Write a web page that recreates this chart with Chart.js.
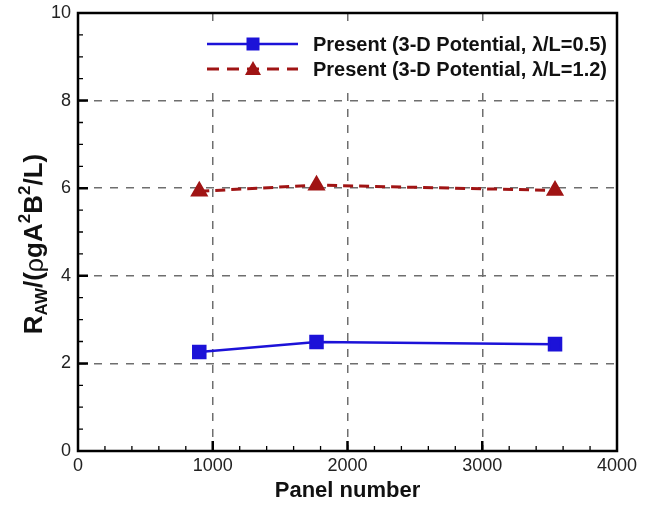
<!DOCTYPE html>
<html>
<head>
<meta charset="utf-8">
<script src="https://cdn.jsdelivr.net/npm/chart.js@4.4.1/dist/chart.umd.min.js"></script>
<style>
  html, body { margin: 0; padding: 0; background: #fff; }
  #wrap { width: 659px; height: 508px; position: relative; }
</style>
</head>
<body>
<div id="wrap"><canvas id="c"></canvas></div>
<script>
// values
const panelCounts = [900, 1770, 3540];
const raw05 = [2.26, 2.49, 2.44];
const raw12 = [5.93, 6.07, 5.95];
const seriesLabels = ['Present (3-D Potential, \u03BB/L=0.5)', 'Present (3-D Potential, \u03BB/L=1.2)'];
const xTicks = [0, 1000, 2000, 3000, 4000];
const yTicks = [0, 2, 4, 6, 8, 10];

const FONT = "'Liberation Sans', Arial, sans-serif";

function toPoints(xs, ys) {
  return xs.map((v, i) => ({ x: v, y: ys[i] }));
}

// frame, inward ticks, legend inside the plot, y title with sub/superscripts
const decor = {
  id: 'decor',
  afterDraw(chart) {
    const { ctx, chartArea: a, scales: { x, y } } = chart;
    ctx.save();
    ctx.strokeStyle = '#000';

    // minor ticks
    ctx.lineWidth = 1.3;
    ctx.beginPath();
    for (let v = 200; v < 4000; v += 200) {
      if (v % 1000 === 0) continue;
      const px = x.getPixelForValue(v);
      ctx.moveTo(px, a.bottom); ctx.lineTo(px, a.bottom - 5);
    }
    for (let v = 0.5; v < 10; v += 0.5) {
      if (v % 2 === 0) continue;
      const py = y.getPixelForValue(v);
      ctx.moveTo(a.left, py); ctx.lineTo(a.left + 5, py);
    }
    ctx.stroke();

    // major ticks
    ctx.lineWidth = 2.5;
    ctx.beginPath();
    xTicks.slice(1, -1).forEach(v => {
      const px = x.getPixelForValue(v);
      ctx.moveTo(px, a.bottom); ctx.lineTo(px, a.bottom - 10);
    });
    yTicks.slice(1, -1).forEach(v => {
      const py = y.getPixelForValue(v);
      ctx.moveTo(a.left, py); ctx.lineTo(a.left + 10, py);
    });
    ctx.stroke();

    // frame
    ctx.lineWidth = 2.5;
    ctx.strokeRect(a.left, a.top, a.right - a.left, a.bottom - a.top);

    // legend
    ctx.fillStyle = '#fff';
    ctx.fillRect(200, 28, a.right - 203, 58);
    const rows = [44, 69];
    chart.data.datasets.forEach((ds, i) => {
      const ly = rows[i];
      ctx.save();
      ctx.strokeStyle = ds.borderColor;
      ctx.lineWidth = ds.borderWidth;
      ctx.setLineDash(ds.borderDash ? [12, 8] : []);
      ctx.beginPath();
      ctx.moveTo(207, ly); ctx.lineTo(298, ly);
      ctx.stroke();
      ctx.restore();
      ctx.fillStyle = ds.pointBackgroundColor;
      ctx.beginPath();
      if (ds.pointStyle === 'rect') {
        ctx.rect(253 - 6.5, ly - 6.5, 13, 13);
      } else {
        ctx.moveTo(253, ly - 8); ctx.lineTo(261, ly + 6); ctx.lineTo(245, ly + 6); ctx.closePath();
      }
      ctx.fill();
      ctx.fillStyle = '#111';
      ctx.font = 'bold 20px ' + FONT;
      ctx.textBaseline = 'middle';
      ctx.textAlign = 'left';
      ctx.fillText(ds.label, 313, ly + 1);
    });

    // y axis title
    ctx.translate(35, 244);
    ctx.rotate(-Math.PI / 2);
    const parts = [
      ['R', 'bold 26px', 0], ['AW', 'bold 17px', 7], ['/(', 'bold 26px', 0],
      ['\u03C1', '25px', 1], ['gA', 'bold 26px', 0], ['2', 'bold 17px', -10],
      ['B', 'bold 26px', 0], ['2', 'bold 17px', -10], ['/L)', 'bold 26px', 0]
    ];
    let w = 0;
    parts.forEach(p => { ctx.font = p[1] + ' ' + FONT; w += ctx.measureText(p[0]).width; });
    let cx = -w / 2;
    ctx.fillStyle = '#111';
    ctx.textBaseline = 'middle';
    ctx.textAlign = 'left';
    parts.forEach(p => {
      ctx.font = p[1] + ' ' + FONT;
      ctx.fillText(p[0], cx, p[2]);
      cx += ctx.measureText(p[0]).width;
    });
    ctx.restore();
  }
};

const gridColor = ctx => {
  const v = ctx.tick ? ctx.tick.value : null;
  return (v === ctx.scale.min || v === ctx.scale.max) ? 'rgba(0,0,0,0)' : '#6e6e6e';
};

new Chart(document.getElementById('c'), {
  type: 'line',
  data: {
    datasets: [
      {
        label: seriesLabels[0],
        data: toPoints(panelCounts, raw05),
        borderColor: '#1c12d8',
        backgroundColor: '#1c12d8',
        pointBackgroundColor: '#1c12d8',
        pointBorderColor: '#1c12d8',
        borderWidth: 2.5,
        pointStyle: 'rect',
        pointRadius: 8.5,
        pointHoverRadius: 8.5,
        tension: 0
      },
      {
        label: seriesLabels[1],
        data: toPoints(panelCounts, raw12),
        borderColor: '#a01414',
        backgroundColor: '#a01414',
        pointBackgroundColor: '#a01414',
        pointBorderColor: '#a01414',
        borderWidth: 3,
        borderDash: [10, 6],
        pointStyle: 'triangle',
        pointRadius: 7.5,
        pointHoverRadius: 7.5,
        tension: 0
      }
    ]
  },
  options: {
    responsive: true,
    maintainAspectRatio: false,
    animation: false,
    layout: { padding: { left: 0, top: 13, right: 42, bottom: 0 } },
    plugins: {
      legend: { display: false },
      tooltip: { enabled: false }
    },
    scales: {
      x: {
        type: 'linear',
        min: 0,
        max: 4000,
        afterBuildTicks: s => { s.ticks = xTicks.map(v => ({ value: v })); },
        afterFit: s => { s.height = 57; s.paddingLeft = 0; s.paddingRight = 0; },
        grid: { color: gridColor, lineWidth: 1.5, drawTicks: false },
        border: { display: false, dash: [8, 8] },
        ticks: { color: '#222', padding: 4, callback: v => String(v), font: { family: FONT, size: 18 } },
        title: {
          display: true,
          text: 'Panel number',
          color: '#111',
          padding: { top: 2, bottom: 4 },
          font: { family: FONT, size: 22, weight: 'bold' }
        }
      },
      y: {
        type: 'linear',
        min: 0,
        max: 10,
        afterBuildTicks: s => { s.ticks = yTicks.map(v => ({ value: v })); },
        afterFit: s => { s.width = 78; s.paddingTop = 0; s.paddingBottom = 0; },
        grid: { color: gridColor, lineWidth: 1.5, drawTicks: false },
        border: { display: false, dash: [8, 8] },
        ticks: { color: '#222', padding: 7, font: { family: FONT, size: 18 } }
      }
    }
  },
  plugins: [decor]
});
</script>
</body>
</html>
